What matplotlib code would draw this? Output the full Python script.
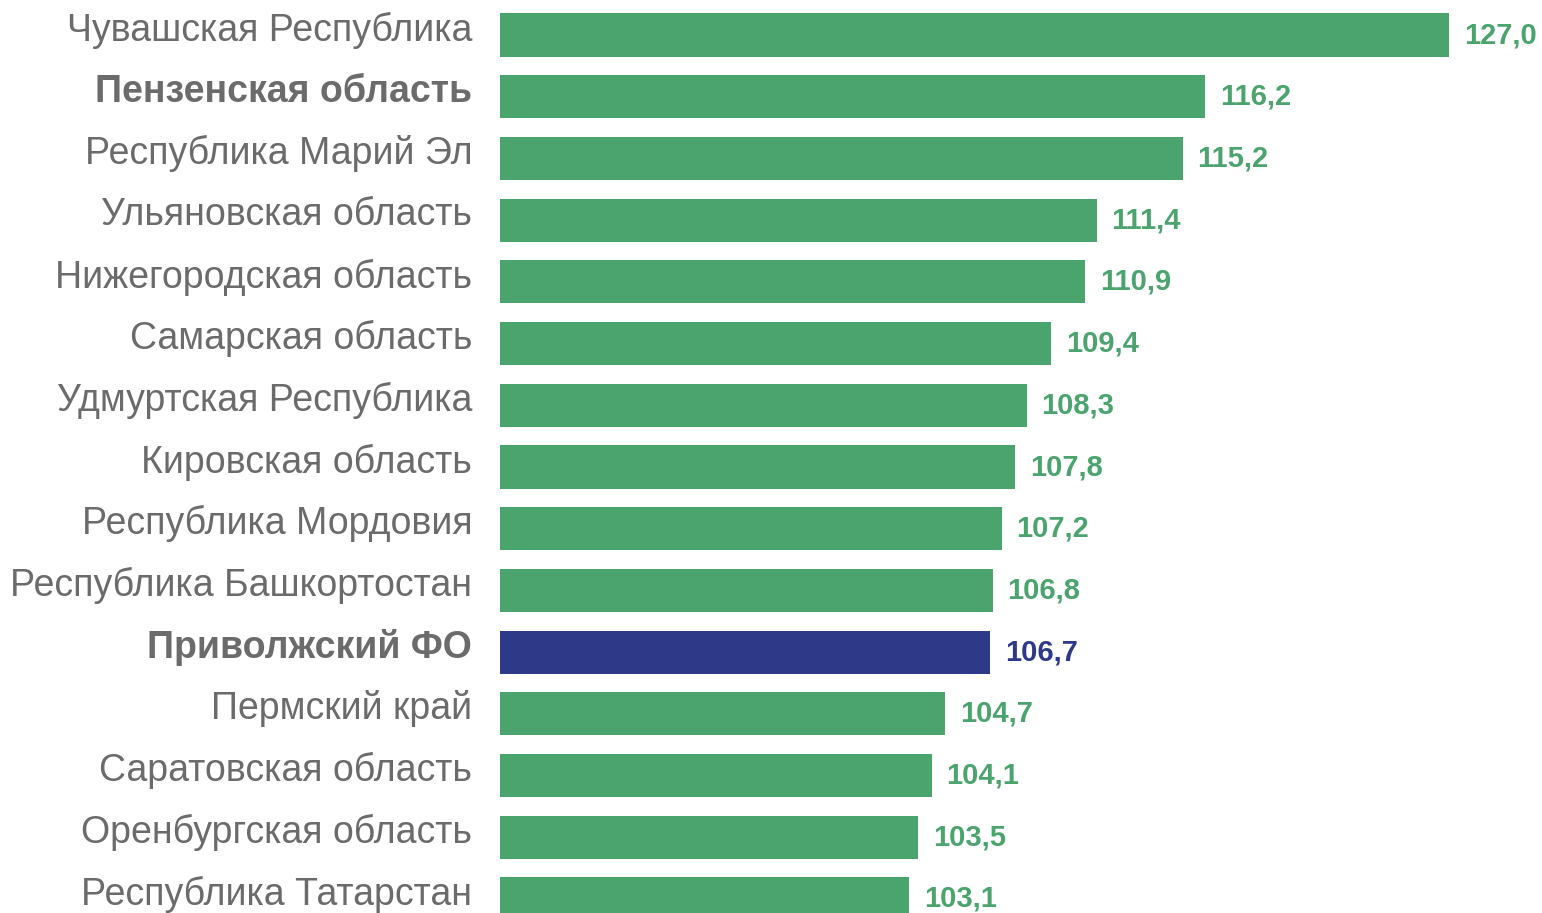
import matplotlib.pyplot as plt

regions = ['Чувашская Республика', 'Пензенская область', 'Республика Марий Эл',
           'Ульяновская область', 'Нижегородская область', 'Самарская область',
           'Удмуртская Республика', 'Кировская область', 'Республика Мордовия',
           'Республика Башкортостан', 'Приволжский ФО', 'Пермский край',
           'Саратовская область', 'Оренбургская область', 'Республика Татарстан']
values = [127.0, 116.2, 115.2, 111.4, 110.9, 109.4, 108.3, 107.8, 107.2,
          106.8, 106.7, 104.7, 104.1, 103.5, 103.1]
bold_labels = ['Пензенская область', 'Приволжский ФО']
highlight = 'Приволжский ФО'

green = '#4BA36E'
blue = '#2E3A87'
grey = '#6B6B6B'

plt.rcParams['font.family'] = ['Liberation Sans', 'DejaVu Sans']

fig = plt.figure(figsize=(15.42, 9.13), dpi=100)
ax = fig.add_axes([500 / 1542, 0, 1042 / 1542, 1])

pos = list(range(len(regions)))
colors = [blue if r == highlight else green for r in regions]
ax.barh(pos, values, height=0.7, color=colors)

ax.set_xlim(85, 85 + 1042 / 22.6)
ax.set_ylim(14 + 14 / 61.7, -35 / 61.7)

# value labels
for p, v, c in zip(pos, values, colors):
    ax.annotate(f'{v:.1f}'.replace('.', ','), (v, p), xytext=(10.5, 0),
                textcoords='offset points', va='center', ha='left',
                fontsize=21, fontweight='bold', color=c)

# category labels, sitting a bit above the bar centre like the original
for p, r in zip(pos, regions):
    ax.annotate(r, (0, p), xycoords=('axes fraction', 'data'),
                xytext=(-20, 3.5), textcoords='offset points',
                ha='right', va='center', fontsize=27, color=grey,
                fontweight='bold' if r in bold_labels else 'normal',
                annotation_clip=False)

ax.set_xticks([])
ax.set_yticks([])
for s in ax.spines.values():
    s.set_visible(False)

fig.savefig('out.png', dpi=100)
